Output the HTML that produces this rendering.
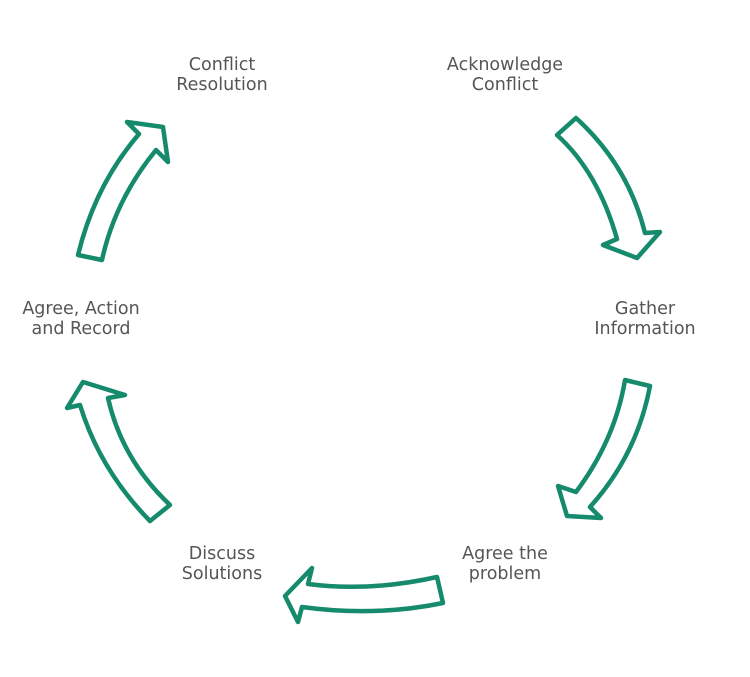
<!DOCTYPE html>
<html><head><style>
body{margin:0;background:#fff;width:750px;height:677px;overflow:hidden;font-family:"DejaVu Sans","Liberation Sans",sans-serif;}
.l{position:absolute;color:#555;font-size:17.5px;line-height:20px;text-align:center;width:200px;transform:translateX(-100px);}
svg{position:absolute;left:0;top:0}
</style></head><body>
<svg width="750" height="677" viewBox="0 0 750 677">
<g fill="#fff" stroke="#158a6c" stroke-width="4.5" stroke-linejoin="round">
<path d="M557,135 Q598,172 617,239 L603,245 L637,258 L660,232 L645,233 Q628,165 576,118 Z"/>
<path d="M625,380 Q615,440 576,492 L558,486 L567,516 L601,518 L590,507 Q637,455 650,386 Z"/>
<path d="M437,577 Q370,592 308,584 L312,568 L285,596 L298,622 L302,607 Q375,617 443,603 Z"/>
<path d="M150,521 Q100,470 80,405 L67,408 L83,382 L125,395 L108,398 Q122,460 170,505 Z"/>
<path d="M78,255 Q95,185 139,134 L127,122 L163,127 L168,162 L156,150 Q115,200 102,260 Z"/>
</g>
</svg>
<div class="l" style="left:222px;top:55px">Conflict<br>Resolution</div>
<div class="l" style="left:505px;top:55px">Acknowledge<br>Conflict</div>
<div class="l" style="left:645px;top:299px">Gather<br>Information</div>
<div class="l" style="left:505px;top:544px">Agree the<br>problem</div>
<div class="l" style="left:222px;top:544px">Discuss<br>Solutions</div>
<div class="l" style="left:81px;top:299px">Agree, Action<br>and Record</div>
</body></html>
